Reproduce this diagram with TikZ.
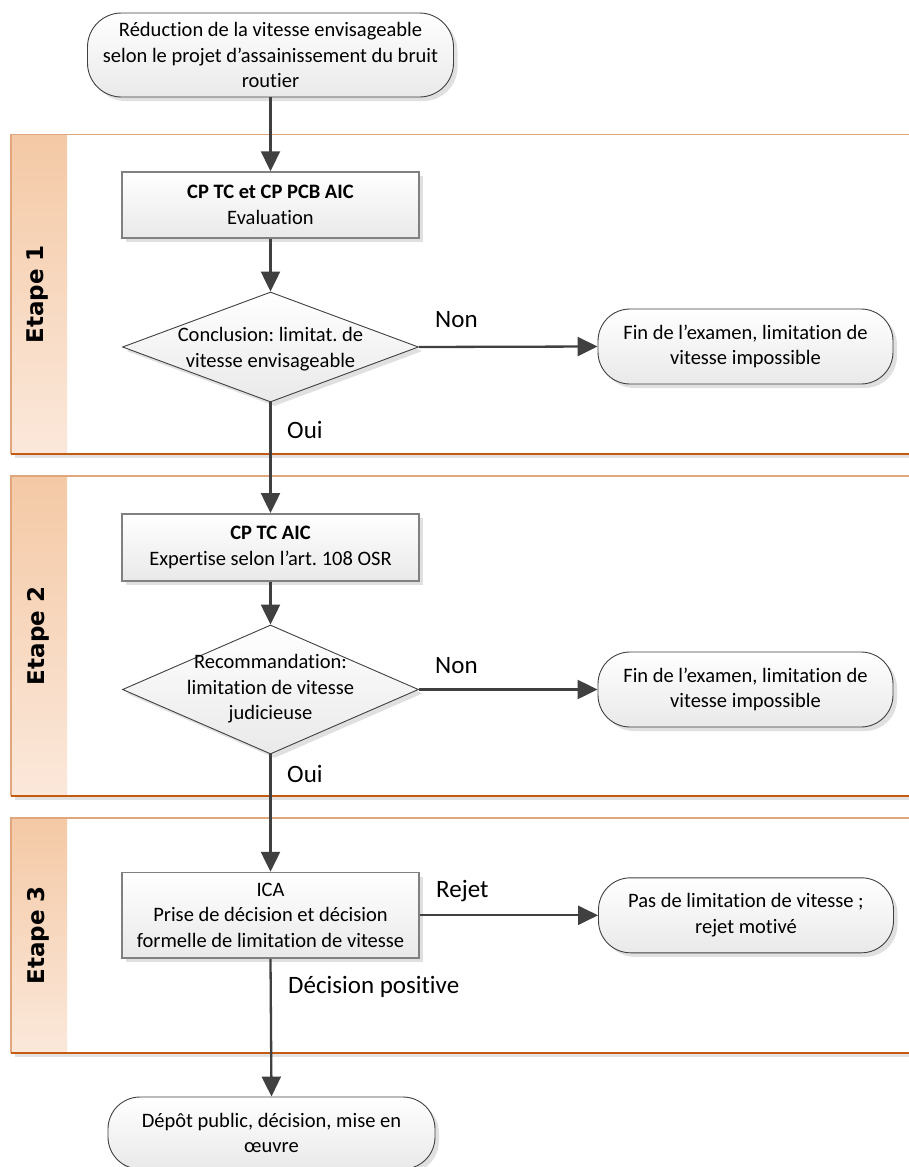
\documentclass[tikz,border=0pt]{standalone}
\usepackage{fontspec}
\setmainfont{Carlito}[Ligatures=NoCommon]
\newfontfamily\etapefont{DejaVu Sans}
\usetikzlibrary{arrows.meta,shapes.geometric,shadows}
\definecolor{arrowgray}{HTML}{404040}
\definecolor{boxgray}{HTML}{808080}
\definecolor{fillbot}{HTML}{E9E9E9}
\definecolor{lanelight}{HTML}{E0A67C}
\definecolor{lanedark}{HTML}{C55A11}
\definecolor{hdtop}{HTML}{F4C9A5}
\definecolor{hdbot}{HTML}{FBE8DB}
\definecolor{lanesh}{HTML}{E2E2E2}
\frenchspacing
\begin{document}
\begin{tikzpicture}[x=1pt,y=-1pt,
  txt/.style={font=\fontsize{20.5}{25.5}\selectfont, align=center},
  lbl/.style={font=\fontsize{25}{30}\selectfont, inner sep=0pt, anchor=base west},
  shad/.style={drop shadow={shadow xshift=4pt,shadow yshift=-4pt,fill=black!12,opacity=1}},
  procbox/.style={rectangle, draw=boxgray, line width=1.5pt, top color=white, bottom color=fillbot, minimum width=297pt, inner sep=0pt, shad, txt},
  term/.style={rectangle, draw=arrowgray, line width=0.9pt, top color=white, bottom color=fillbot, inner sep=0pt, shad, txt},
  dec/.style={diamond, draw=arrowgray, line width=0.9pt, top color=white, bottom color=fillbot, inner sep=0pt, minimum width=296pt, shad},
  dtext/.style={txt, inner sep=0pt},
  arr/.style={draw=arrowgray, line width=2.3pt, -{Triangle[length=20pt,width=19pt]}},
  etape/.style={font=\etapefont\bfseries\fontsize{23}{26}\selectfont, rotate=90, inner sep=0pt},
  laneborder/.style={line width=1.6pt}
]
\useasboundingbox (0,0) rectangle (909,1167);

% swimlanes
\foreach \ta/\tb in {134.5/454, 476/796, 818/1053}{
  \fill[lanesh] (15,\ta+4) rectangle (915,\tb+4);
  \fill[white] (11,\ta) rectangle (915,\tb);
  \shade[top color=hdtop, bottom color=hdbot] (11,\ta) rectangle (67,\tb);
  \draw[lanelight, laneborder] (915,\ta) -- (11,\ta) -- (11,\tb);
  \draw[lanedark, laneborder] (11,\tb) -- (915,\tb);
}
\node[etape] (e1) at (38,294.3) {Etape 1};
\node[etape] (e2) at (38,636) {Etape 2};
\node[etape] (e3) at (38,935.5) {Etape 3};

% nodes
\node[term, minimum width=366pt, minimum height=84pt, rounded corners=34pt] (t0) at (270.5,55) {Réduction de la vitesse envisageable\\selon le projet d’assainissement du bruit\\routier};

\node[procbox, minimum height=66pt] (b1) at (270.5,205) {\textbf{CP TC et CP PCB AIC}\\Evaluation};
\node[dec, minimum height=110pt] (d1) at (270.5,347) {};
\node[dtext] (d1t) at (270.5,349) {Conclusion: limitat. de\\vitesse envisageable};
\node[term, minimum width=295pt, minimum height=75pt, rounded corners=32pt] (f1) at (745.5,346.5) {Fin de l’examen, limitation de\\vitesse impossible};

\node[procbox, minimum height=67pt] (b2) at (270.5,547.3) {\textbf{CP TC AIC}\\Expertise selon l’art. 108 OSR};
\node[dec, minimum height=129pt] (d2) at (270.5,689.5) {};
\node[dtext] (d2t) at (270.5,689) {Recommandation:\\limitation de vitesse\\judicieuse};
\node[term, minimum width=295pt, minimum height=75pt, rounded corners=32pt] (f2) at (745.5,689.5) {Fin de l’examen, limitation de\\vitesse impossible};

\node[procbox, minimum height=85.5pt] (b3) at (270.5,915.3) {ICA\\Prise de décision et décision\\formelle de limitation de vitesse};
\node[term, minimum width=295pt, minimum height=75pt, rounded corners=32pt] (p3) at (746,915.3) {Pas de limitation de vitesse ;\\rejet motivé};

\node[term, minimum width=327pt, minimum height=72pt, rounded corners=32pt] (t4) at (271.5,1133) {Dépôt public, décision, mise en\\œuvre};

% connectors
\draw[arr] (t0.south) -- (b1.north);
\draw[arr] (b1.south) -- (d1.north);
\draw[arr] (d1.east) -- (f1.west);
\draw[arr] (d1.south) -- (b2.north);
\draw[arr] (b2.south) -- (d2.north);
\draw[arr] (d2.east) -- (f2.west);
\draw[arr] (d2.south) -- (b3.north);
\draw[arr] (b3.east) -- (p3.west);
\draw[arr] (b3.south) -- (t4.north);

% labels
\node[lbl] (l1) at (435,327) {Non};
\node[lbl] (l2) at (287,438) {Oui};
\node[lbl] (l3) at (435,673) {Non};
\node[lbl] (l4) at (287,782) {Oui};
\node[lbl] (l5) at (436,897) {Rejet};
\node[lbl] (l6) at (288,993) {Décision positive};
\end{tikzpicture}
\end{document}
